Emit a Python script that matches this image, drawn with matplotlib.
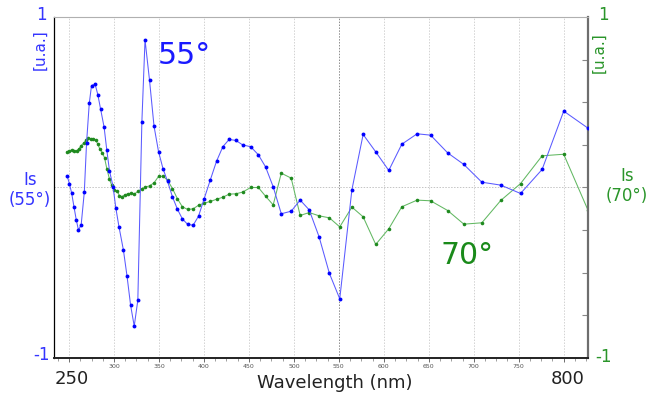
'''
Is(55°) / Is(70°) spectra vs wavelength
'''

import matplotlib
matplotlib.use('Agg')
import matplotlib.pyplot as plt
from matplotlib.ticker import MultipleLocator

plt.rcParams['font.family'] = ['DejaVu Sans']

# 55° curve (blue)
wl_55 = [248, 250.5, 253, 255.5, 258, 260.5, 263.5, 267, 269.5, 272.5,
         275, 279, 282, 285, 289, 292, 295, 299, 302, 305.5,
         310.5, 314.5, 318.5, 322.5, 326.5, 331, 334.5, 339.5, 344.5, 349.5,
         354.5, 359.5, 365, 370.5, 376, 382, 388, 394, 400, 407,
         414, 421, 428, 435.5, 443, 452, 460.5, 468.5, 477, 486,
         497, 507, 517, 528, 539.5, 551, 564.5, 577, 591, 605.5,
         620, 637, 652, 671, 689, 709, 730, 752, 776, 800, 827]
is_55 = [0.066, 0.022, -0.035, -0.113, -0.188, -0.25, -0.219, -0.027, 0.262, 0.493,
         0.598, 0.606, 0.545, 0.463, 0.354, 0.219, 0.098, 0.004, -0.119, -0.229,
         -0.368, -0.52, -0.692, -0.813, -0.661, 0.385, 0.866, 0.629, 0.36, 0.211,
         0.11, 0.037, -0.055, -0.127, -0.184, -0.217, -0.221, -0.168, -0.07, 0.043,
         0.154, 0.239, 0.282, 0.276, 0.25, 0.239, 0.192, 0.121, 0.004, -0.154,
         -0.139, -0.074, -0.131, -0.289, -0.504, -0.653, -0.013, 0.311, 0.209, 0.1,
         0.254, 0.315, 0.307, 0.203, 0.135, 0.031, 0.014, -0.035, 0.106, 0.448, 0.348]

# 70° curve (green)
wl_70 = [248, 250.5, 253, 256, 258.5, 261, 263.5, 266.5, 269, 271.5,
         274, 276.5, 279.5, 282, 284.5, 287, 289.5, 292, 295, 297.5,
         300.5, 303.5, 306, 309, 312, 315.5, 319, 322.5, 326.5, 331,
         335, 339.5, 344.5, 349.5, 354.5, 359.5, 365, 370.5, 376, 382,
         388, 394, 400, 407, 414, 421, 428, 435.5, 443, 452,
         460.5, 468.5, 477, 486, 497, 507, 517, 528, 539.5, 551,
         564.5, 577, 591, 605.5, 620, 637, 652, 671, 689, 709,
         730, 752, 776, 800, 827]
is_70 = [0.209, 0.217, 0.219, 0.213, 0.217, 0.227, 0.246, 0.262, 0.277, 0.291,
         0.287, 0.286, 0.28, 0.254, 0.223, 0.205, 0.174, 0.111, 0.049, 0.012,
         -0.012, -0.022, -0.047, -0.053, -0.043, -0.037, -0.033, -0.039, -0.023, -0.008,
         0.002, 0.01, 0.027, 0.065, 0.066, 0.043, -0.006, -0.066, -0.113, -0.129,
         -0.125, -0.104, -0.092, -0.082, -0.069, -0.057, -0.039, -0.037, -0.027, 0.0,
         0.0, -0.051, -0.102, 0.084, 0.055, -0.164, -0.147, -0.166, -0.178, -0.231,
         -0.115, -0.172, -0.334, -0.242, -0.113, -0.074, -0.078, -0.135, -0.215, -0.207,
         -0.076, 0.023, 0.186, 0.195, -0.133]

x_ticks = [250, 300, 350, 400, 450, 500, 550, 600, 650, 700, 750, 800]
x_labels = ['', '300', '350', '400', '450', '500', '550', '600', '650', '700', '750', '']

BLUE = '#3535ff'
GREEN = '#2a952a'
W, H = 649, 399


def px(x, y):
    # 像素坐标 -> figure 坐标
    return x / W, 1 - y / H


fig = plt.figure(figsize=(6.49, 3.99), dpi=100)
ax = fig.add_axes([54 / W, 1 - 358 / H, (588 - 54) / W, (358 - 17) / H])

# 网格
for t in x_ticks:
    c = '#8a8a8a' if t == 550 else '#d2d2d2'
    ax.axvline(t, color=c, linestyle=(0, (1.5, 1.5)), linewidth=0.7, zorder=0)
ax.axhline(0, color='#c4c4c4', linestyle=(0, (1.5, 1.5)), linewidth=0.7, zorder=0)

ax.plot(wl_70, is_70, color='#62b862', linewidth=0.75, marker='o', markersize=2.6,
        markerfacecolor='#1f8a1f', markeredgewidth=0, zorder=2)
ax.plot(wl_55, is_55, color='#5a5aff', linewidth=0.75, marker='o', markersize=2.8,
        markerfacecolor='#0000ff', markeredgewidth=0, zorder=3)

ax.set_xlim(233.3, 827)
ax.set_ylim(-1, 1)

ax.set_xticks(x_ticks)
ax.set_xticklabels(x_labels, fontsize=4.5, color='#555555')
ax.xaxis.set_minor_locator(MultipleLocator(12.5))
ax.tick_params(axis='x', which='major', length=3, width=0.6, color='#555555', pad=1.5)
ax.tick_params(axis='x', which='minor', length=2, width=0.5, color='#777777')

ax.yaxis.tick_right()
ax.set_yticks([-0.75, -0.5, -0.25, 0, 0.25, 0.5, 0.75])
ax.tick_params(axis='y', direction='in', length=4, width=0.8, color='#888888',
               labelright=False)

ax.spines['left'].set_color('black')
ax.spines['left'].set_linewidth(0.9)
ax.spines['bottom'].set_color('#222222')
ax.spines['bottom'].set_linewidth(1.4)
ax.spines['right'].set_color('#6e6e6e')
ax.spines['right'].set_linewidth(1.6)
ax.spines['top'].set_color('#b0b0b0')
ax.spines['top'].set_linewidth(0.8)

# 左侧标注
fig.text(*px(41, 15), '1', color=BLUE, fontsize=12, ha='center', va='center')
fig.text(*px(40, 50), '[u.a.]', color=BLUE, fontsize=11, ha='center', va='center',
         rotation=90)
fig.text(*px(30, 190), 'Is\n(55°)', color=BLUE, fontsize=12, ha='center', va='center',
         linespacing=1.2)
fig.text(*px(41, 355), '-1', color=BLUE, fontsize=12, ha='center', va='center')

# 右侧标注
fig.text(*px(603, 15), '1', color=GREEN, fontsize=12, ha='center', va='center')
fig.text(*px(599, 53), '[u.a.]', color=GREEN, fontsize=11, ha='center', va='center',
         rotation=90)
fig.text(*px(627, 186), 'Is\n(70°)', color=GREEN, fontsize=12, ha='center', va='center',
         linespacing=1.2)
fig.text(*px(604, 357), '-1', color=GREEN, fontsize=12, ha='center', va='center')

# 底部
fig.text(*px(72, 379), '250', color='#222222', fontsize=13, ha='center', va='center')
fig.text(*px(568, 379), '800', color='#222222', fontsize=13, ha='center', va='center')
fig.text(*px(335, 383), 'Wavelength (nm)', color='#222222', fontsize=13,
         ha='center', va='center')

# 曲线名称
fig.text(*px(184, 56), '55°', color='#1a1aff', fontsize=21.5, ha='center', va='center')
fig.text(*px(467, 256), '70°', color='#1a8a1a', fontsize=21.5, ha='center', va='center')

fig.savefig('out.png', dpi=100)
